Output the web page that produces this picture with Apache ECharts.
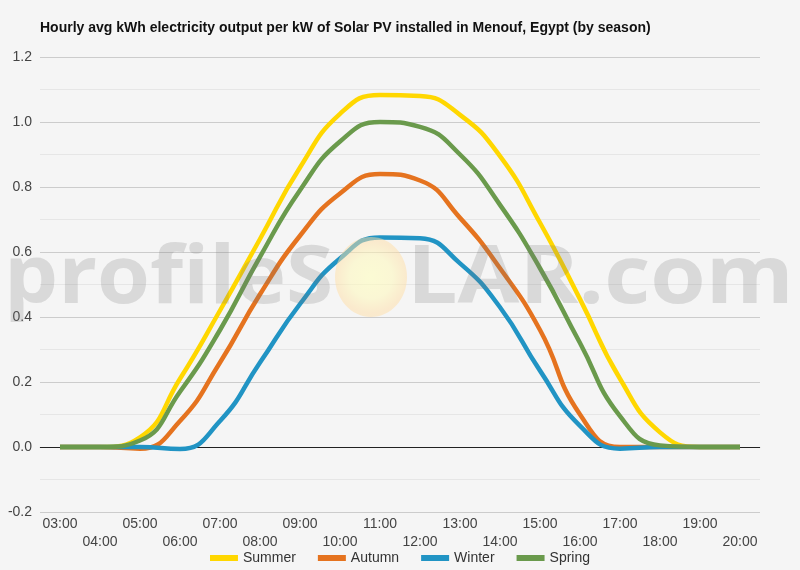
<!DOCTYPE html>
<html>
<head>
<meta charset="utf-8">
<script src="https://cdn.jsdelivr.net/npm/echarts@6/dist/echarts.min.js"></script>
<style>
html,body{margin:0;padding:0;background:#f5f5f5;}
#chart{width:800px;height:570px;}
</style>
</head>
<body>
<div id="chart"></div>
<script>
var titleText = 'Hourly avg kWh electricity output per kW of Solar PV installed in Menouf, Egypt (by season)';
var hours = ['03:00','04:00','05:00','06:00','07:00','08:00','09:00','10:00','11:00','12:00','13:00','14:00','15:00','16:00','17:00','18:00','19:00','20:00'];
var summer = [0, 0, 0.03, 0.21, 0.42, 0.64, 0.86, 1.025, 1.083, 1.08, 1.022, 0.895, 0.69, 0.455, 0.21, 0.045, 0, 0];
var autumn = [0, 0, -0.005, 0.08, 0.26, 0.47, 0.65, 0.78, 0.84, 0.82, 0.705, 0.55, 0.36, 0.10, 0.0, 0, 0, 0];
var winter = [0, 0, 0, -0.006, 0.08, 0.26, 0.44, 0.58, 0.645, 0.642, 0.565, 0.43, 0.235, 0.065, -0.005, 0, 0, 0];
var spring = [0, 0, 0.02, 0.17, 0.36, 0.585, 0.79, 0.94, 1.0, 0.985, 0.90, 0.745, 0.55, 0.32, 0.095, 0.005, 0, 0];
var seriesNames = ['Summer','Autumn','Winter','Spring'];
var seriesColors = ['#ffd700','#e5731f','#2194c4','#6a9a4c'];
var seriesData = [summer, autumn, winter, spring];

var chart = echarts.init(document.getElementById('chart'), null, {renderer:'canvas'});
var series = seriesNames.map(function(n,i){
  var s = {
    name: n, type: 'line', data: seriesData[i], smooth: 0.5,
    showSymbol: false, symbol: 'none',
    lineStyle: {width: 4.5, color: seriesColors[i]},
    itemStyle: {color: seriesColors[i]},
    z: 3
  };
  if (i === 0) {
    s.markLine = {silent: true, symbol: 'none', label: {show:false},
      lineStyle: {color:'#222', width:1, type:'solid'},
      data: [{yAxis: 0}], z: 1};
  }
  return s;
});

chart.setOption({
  backgroundColor: '#f5f5f5',
  animation: false,
  textStyle: {fontFamily: 'Liberation Sans, Arial, sans-serif'},
  title: {
    text: titleText, left: 35, top: 16,
    textStyle: {fontSize: 14, fontWeight: 'bold', color: '#111', fontFamily: 'Liberation Sans, Arial, sans-serif'}
  },
  legend: {
    bottom: 0, left: 'center', icon: 'rect', itemWidth: 28, itemHeight: 6, itemGap: 22,
    textStyle: {fontSize: 14, color: '#333'},
    data: seriesNames
  },
  grid: {left: 40, right: 40, top: 57, bottom: 58, containLabel: false},
  xAxis: {
    type: 'category', data: hours, boundaryGap: true,
    axisLine: {show: true, lineStyle: {color: '#ccc'}},
    axisTick: {show: false},
    axisLabel: {interval: 0, fontSize: 14, color: '#444', lineHeight: 18, margin: 3,
      formatter: function(v, idx){ return idx % 2 === 1 ? '\n' + v : v; }},
    splitLine: {show: false}
  },
  yAxis: {
    type: 'value', min: -0.2, max: 1.2, interval: 0.2,
    axisLine: {show: false}, axisTick: {show: false},
    axisLabel: {fontSize: 14, color: '#444', margin: 8, formatter: function(v){ return v.toFixed(1); }},
    splitLine: {show: true, lineStyle: {color: '#cccccc'}},
    minorTick: {show: false, splitNumber: 2},
    minorSplitLine: {show: true, lineStyle: {color: '#e6e6e6'}}
  },
  graphic: [
    {type: 'ellipse', shape: {cx: 371, cy: 277, rx: 36, ry: 40}, z: 100, silent: true,
      style: {fill: {type:'radial', x:0.5, y:0.5, r:0.5, colorStops:[
        {offset:0, color:'rgba(255,255,190,0.6)'},
        {offset:0.6, color:'rgba(255,248,185,0.55)'},
        {offset:1, color:'rgba(255,222,165,0.5)'}]}}},
    {type: 'text', z: 100, silent: true, left: 4, top: 240, scaleX: 1.07,
      style: {text: 'profileS', font: 'bold 80px "Open Sans"', fill: 'rgba(120,120,120,0.22)'}},
    {type: 'text', z: 100, silent: true, left: 407, top: 240, scaleX: 1.12,
      style: {text: 'LAR.com', font: 'bold 80px "Open Sans"', fill: 'rgba(120,120,120,0.22)'}}
  ],
  series: series
});
</script>
</body>
</html>
